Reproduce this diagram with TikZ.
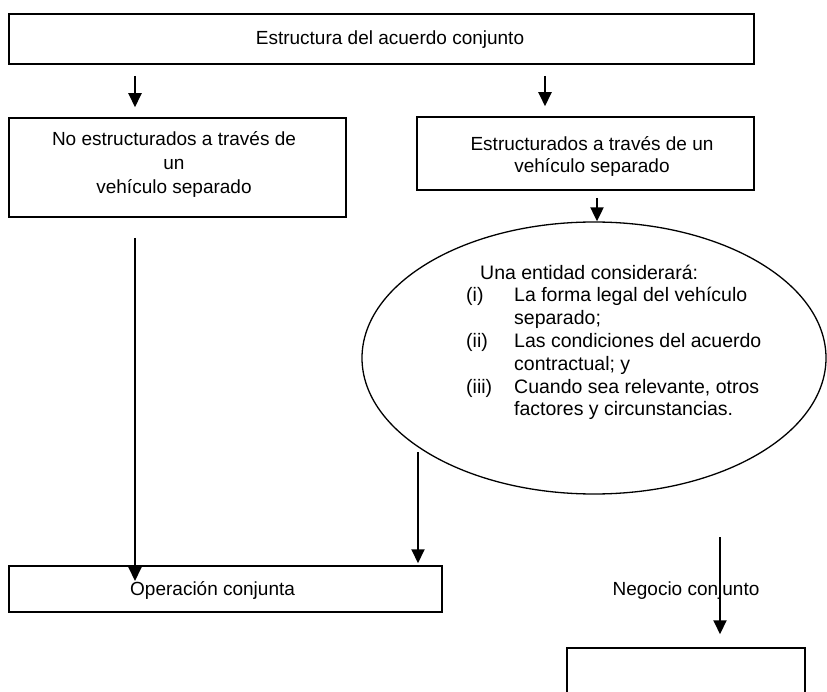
\documentclass[tikz,border=0pt]{standalone}
\usepackage{fontspec}
\setmainfont{Liberation Sans}
\usetikzlibrary{arrows.meta,shapes.geometric,calc}
\begin{document}
\begin{tikzpicture}[x=1pt,y=-1pt,
  box/.style={draw, line width=1.5pt, inner sep=0pt, rectangle},
  arr/.style={line width=2pt, -{Triangle[width=13pt,length=14pt]}},
  txt/.style={font=\fontsize{19}{23}\selectfont, inner sep=0pt, align=center}]
\useasboundingbox (0,0) rectangle (827,692);
\clip (0,0) rectangle (827,692);
% boxes
\node[box, minimum width=745pt, minimum height=50pt] (top) at (381.5,39) {};
\node[txt] (toptext) at (390,40) {Estructura del acuerdo conjunto};
\node[box, minimum width=337pt, minimum height=99pt] (lb) at (177.5,167.5) {};
\node[txt, font=\fontsize{19}{24}\selectfont] (lbt) at (174,164) {No estructurados a través de\\un\\vehículo separado};
\node[box, minimum width=337pt, minimum height=73pt] (rb) at (585.5,153.5) {};
\node[txt, font=\fontsize{19}{22}\selectfont] (rbt) at (592,156) {Estructurados a través de un\\vehículo separado};
\node[draw, ellipse, line width=1.3pt, minimum width=464pt, minimum height=272pt, inner sep=0pt] (ell) at (594,358) {};
\node[anchor=north west, inner sep=0pt, font=\fontsize{19.5}{22.8}\selectfont] (et) at (466,263) {%
\begin{tabular}{@{}p{48pt}@{}l@{}}
\multicolumn{2}{@{\hspace{14pt}}l@{}}{Una entidad considerará:}\\
(i)&La forma legal del vehículo\\
&separado;\\
(ii)&Las condiciones del acuerdo\\
&contractual; y\\
(iii)&Cuando sea relevante, otros\\
&factores y circunstancias.
\end{tabular}};
\node[box, minimum width=433pt, minimum height=46pt] (op) at (225.5,589) {};
\node[txt, anchor=west] (opt) at (130,590) {Operación conjunta};
\node[txt] (neg) at (686,591) {Negocio conjunto};
\node[box, minimum width=238pt, minimum height=80pt] (bb) at (686,688) {};
% arrows
\coordinate (a1) at (135,76);
\coordinate (a2) at (545,76);
\coordinate (a3) at (597,198);
\coordinate (a4s) at (135,238);
\coordinate (a4e) at (135,581);
\coordinate (a5) at (418,452);
\coordinate (a6) at (720,537);
\draw[arr, shorten >=10pt] (a1) -- (a1 |- lb.north);
\draw[arr, shorten >=10pt] (a2) -- (a2 |- rb.north);
\draw[arr] (a3) -- (a3 |- ell.north);
\draw[arr] (a4s) -- (a4e);
\draw[arr, shorten >=2pt] (a5) -- (a5 |- op.north);
\draw[arr, shorten >=13pt] (a6) -- (a6 |- bb.north);
\end{tikzpicture}
\end{document}
